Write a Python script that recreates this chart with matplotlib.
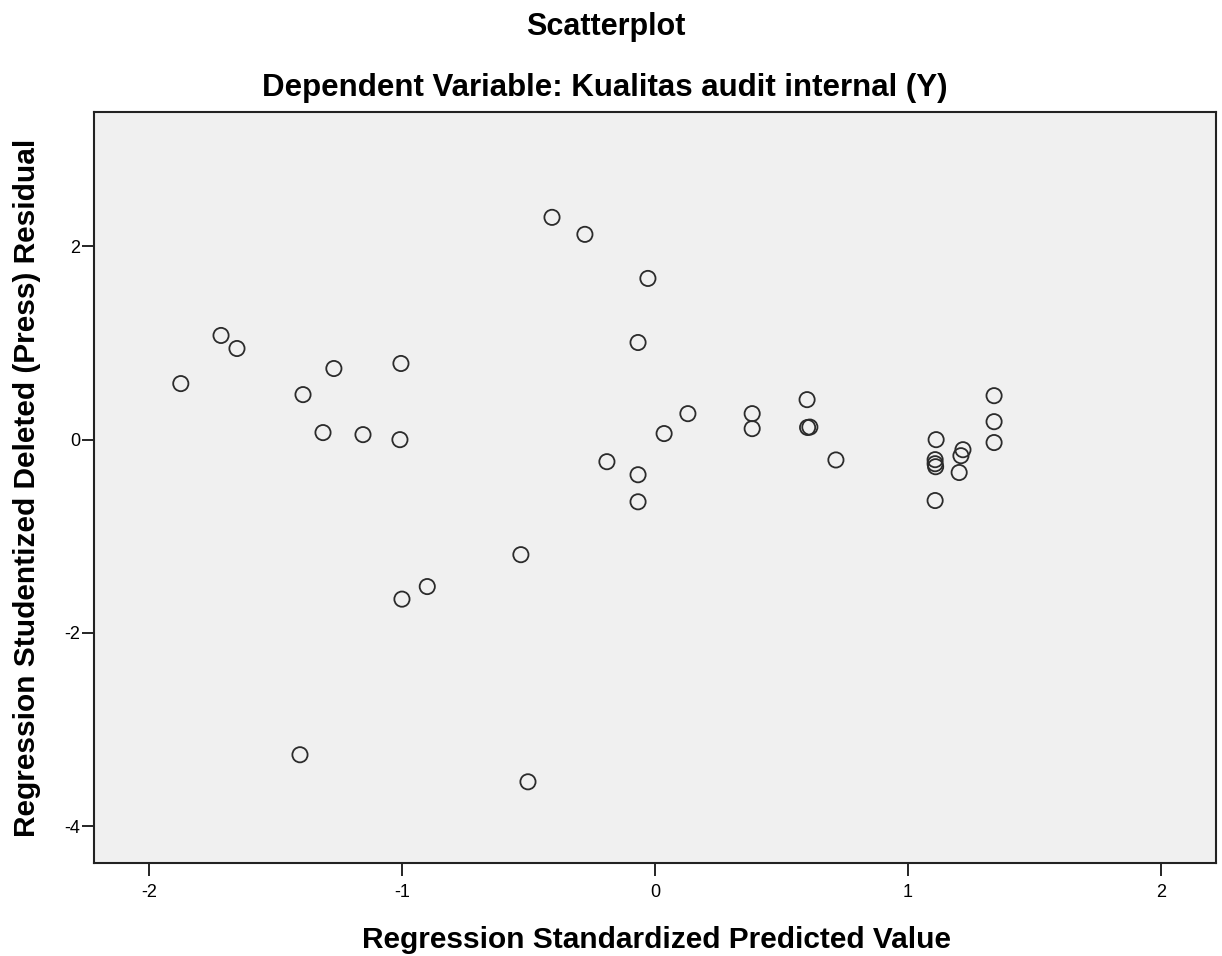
import matplotlib
matplotlib.use("Agg")
import matplotlib.pyplot as plt

predicted = [-1.874, -1.715, -1.652, -1.391, -1.269, -1.312, -1.154, -1.004, -1.008,
             -0.407, -0.277, -0.028, -0.067, 0.130, 0.036, -0.190, -0.067, -0.067,
             0.384, 0.384, 0.601, 0.603, 0.612, 0.715,
             1.340, 1.340, 1.340, 1.111, 1.107, 1.107, 1.109, 1.217, 1.209, 1.202, 1.107,
             -0.530, -0.900, -1.000, -0.502, -1.403]
residual = [0.580, 1.078, 0.943, 0.466, 0.736, 0.073, 0.052, 0.788, 0.000,
            2.300, 2.124, 1.668, 1.005, 0.269, 0.063, -0.228, -0.363, -0.643,
            0.269, 0.114, 0.414, 0.126, 0.130, -0.210,
            0.455, 0.186, -0.030, 0.000, -0.207, -0.249, -0.280, -0.104, -0.166, -0.340, -0.630,
            -1.190, -1.520, -1.650, -3.540, -3.260]

x_ticks = [-2, -1, 0, 1, 2]
y_ticks = [2, 0, -2, -4]

plt.rcParams['font.family'] = ['Liberation Sans', 'DejaVu Sans']

fig = plt.figure(figsize=(12.22, 9.56), dpi=100)
ax = fig.add_axes([94/1222, 1 - 863/956, (1216-94)/1222, (863-112)/956])
ax.set_facecolor('#F0F0F0')
ax.scatter(predicted, residual, s=120, facecolors='none', edgecolors='#2b2b2b', linewidths=1.3, zorder=3)

ax.set_xlim(-2.217, 2.217)
ax.set_ylim(-4.38, 3.39)
ax.set_xticks(x_ticks)
ax.set_yticks(y_ticks)
ax.set_xticklabels([str(v) for v in x_ticks])
ax.set_yticklabels([str(v) for v in y_ticks])
ax.tick_params(direction='out', length=9, width=1.2, labelsize=13, colors='black')
ax.tick_params(axis='x', pad=6)
ax.tick_params(axis='y', pad=1)
for sp in ax.spines.values():
    sp.set_linewidth(1.5)
    sp.set_color('#222222')

fig.text(606/1222, 1 - 27/956, 'Scatterplot', ha='center', va='center', fontsize=22, fontweight='bold')
fig.text(605/1222, 1 - 88/956, 'Dependent Variable: Kualitas audit internal (Y)', ha='center', va='center',
         fontsize=22.5, fontweight='bold')
fig.text(656/1222, 1 - 940/956, 'Regression Standardized Predicted Value', ha='center', va='center',
         fontsize=21.5, fontweight='bold')
fig.text(27/1222, 1 - 488/956, 'Regression Studentized Deleted (Press) Residual', ha='center', va='center',
         rotation=90, fontsize=21.5, fontweight='bold')

fig.savefig('out.png', dpi=100, facecolor='white')
